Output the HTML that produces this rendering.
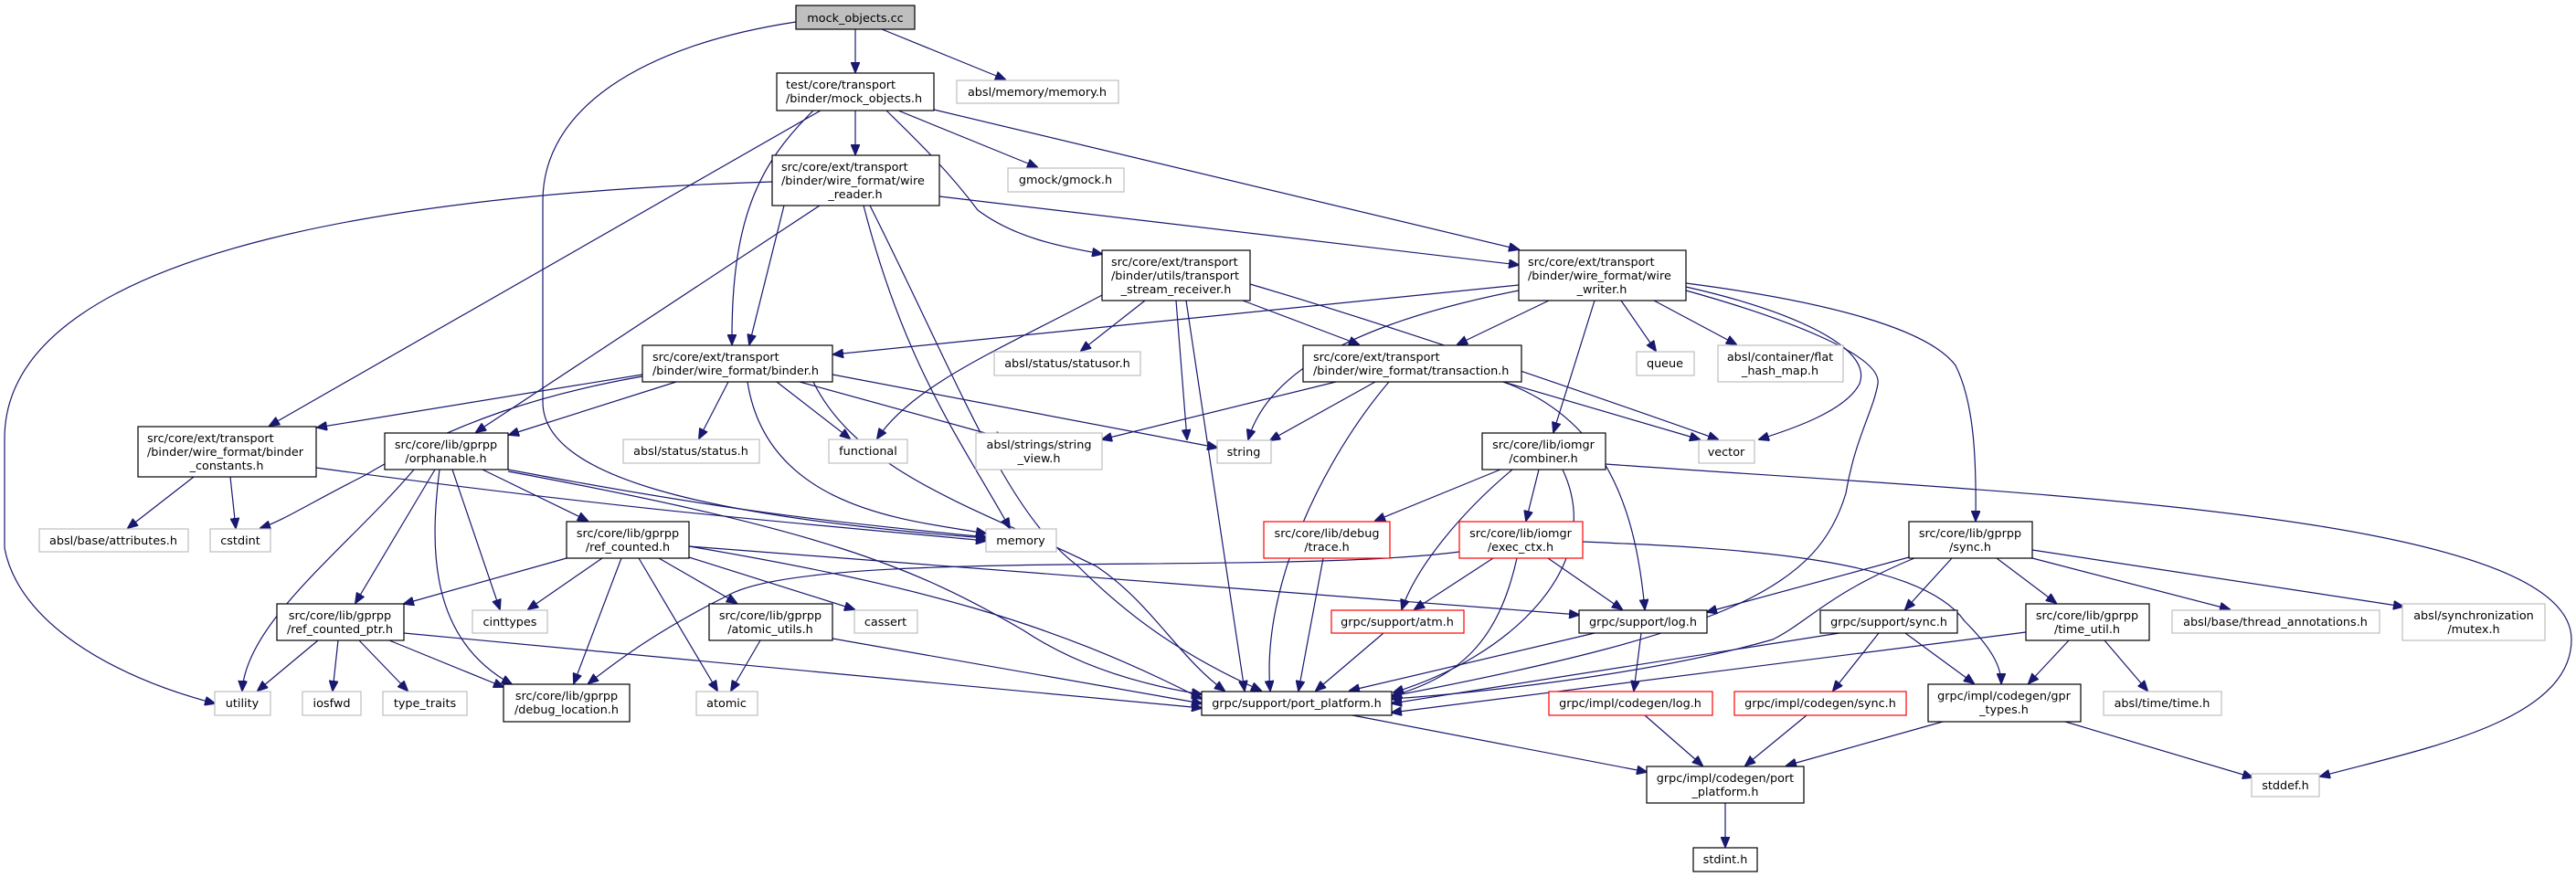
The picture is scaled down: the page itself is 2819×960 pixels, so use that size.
<!DOCTYPE html>
<html><head><meta charset="utf-8"><style>
html,body{margin:0;padding:0;background:#fff;}
svg{display:block;}
text{font-family:"DejaVu Sans","Liberation Sans",sans-serif;font-size:12.8px;fill:#000;}
.e{fill:none;stroke:#191970;stroke-width:1.2;marker-end:url(#a);}
</style></head><body>
<svg width="2819" height="960" viewBox="0 0 2819 960" xmlns="http://www.w3.org/2000/svg">
<defs><marker id="a" markerUnits="userSpaceOnUse" markerWidth="12" markerHeight="10" refX="11" refY="5" orient="auto"><path d="M0,0 L12,5 L0,10 z" fill="#191970" stroke="#191970"/></marker></defs>
<g>
<path class="e" d="M936,32 L936,79"/>
<path class="e" d="M965,32 L1100,87"/>
<path class="e" d="M871,24 C700,50 594,120 594,220 L594,440 C594,520 760,565 1079,589"/>
<path class="e" d="M936,121 L936,169"/>
<path class="e" d="M983,121 L1135,183"/>
<path class="e" d="M1022,120 L1662,273"/>
<path class="e" d="M970,121 C1010,160 1040,190 1070,230 C1110,260 1160,270 1206,278"/>
<path class="e" d="M890,121 C830,180 800,240 801,377"/>
<path class="e" d="M898,121 L295,466"/>
<path class="e" d="M845,199 C500,210 5,260 5,480 L5,600 C20,680 120,740 235,770"/>
<path class="e" d="M897,225 L521,473"/>
<path class="e" d="M858,225 L820,377"/>
<path class="e" d="M945,225 C990,400 1050,480 1105,578"/>
<path class="e" d="M952,225 C1050,420 1100,560 1180,620 C1240,680 1300,720 1380,756"/>
<path class="e" d="M1028,215 L1662,290"/>
<path class="e" d="M1206,323 C1100,380 1000,420 960,480"/>
<path class="e" d="M1253,329 L1183,384"/>
<path class="e" d="M1287,329 L1299,481"/>
<path class="e" d="M1298,329 L1362,756"/>
<path class="e" d="M1360,329 L1487,377"/>
<path class="e" d="M1368,311 C1500,350 1650,400 1880,481"/>
<path class="e" d="M1662,312 L912,388"/>
<path class="e" d="M1695,329 L1595,377"/>
<path class="e" d="M1662,318 C1500,350 1390,400 1366,481"/>
<path class="e" d="M1745,329 L1700,473"/>
<path class="e" d="M1774,329 L1812,384"/>
<path class="e" d="M1810,329 L1900,377"/>
<path class="e" d="M1845,314 C1960,340 2050,380 2035,420 C2020,450 1960,470 1925,481"/>
<path class="e" d="M1845,318 C1960,350 2060,390 2055,420 C2050,450 2030,480 2020,540 C1990,640 1900,690 1523,762"/>
<path class="e" d="M1845,310 C2000,330 2110,360 2140,400 C2160,440 2163,500 2162,570"/>
<path class="e" d="M703,410 L347,468"/>
<path class="e" d="M703,412 C600,430 500,460 400,520 C340,550 310,570 285,578"/>
<path class="e" d="M740,418 L557,476"/>
<path class="e" d="M797,418 L765,480"/>
<path class="e" d="M850,418 L930,480"/>
<path class="e" d="M875,418 L1100,480"/>
<path class="e" d="M911,410 L1332,490"/>
<path class="e" d="M818,418 C840,560 1000,570 1079,584"/>
<path class="e" d="M890,418 C940,520 1080,560 1200,620 C1260,660 1290,720 1340,756"/>
<path class="e" d="M212,522 L140,578"/>
<path class="e" d="M252,522 L258,578"/>
<path class="e" d="M346,512 C700,560 900,575 1079,592"/>
<path class="e" d="M453,514 C380,600 270,680 265,756"/>
<path class="e" d="M476,514 L389,660"/>
<path class="e" d="M481,514 C470,600 470,700 560,749"/>
<path class="e" d="M495,514 L547,667"/>
<path class="e" d="M528,514 L643,570"/>
<path class="e" d="M556,514 C800,560 900,570 1079,588"/>
<path class="e" d="M556,516 C900,580 1000,620 1120,690 C1180,730 1250,750 1315,760"/>
<path class="e" d="M620,611 L442,661"/>
<path class="e" d="M659,611 L578,667"/>
<path class="e" d="M680,611 L628,748"/>
<path class="e" d="M699,611 L785,756"/>
<path class="e" d="M721,611 L806,660"/>
<path class="e" d="M754,610 L935,667"/>
<path class="e" d="M754,598 C1000,640 1150,680 1315,765"/>
<path class="e" d="M754,598 L1728,673"/>
<path class="e" d="M348,701 L282,756"/>
<path class="e" d="M370,701 L364,756"/>
<path class="e" d="M393,701 L446,756"/>
<path class="e" d="M426,701 L551,752"/>
<path class="e" d="M442,693 L1315,775"/>
<path class="e" d="M832,701 L800,756"/>
<path class="e" d="M911,699 L1315,770"/>
<path class="e" d="M1597,604 C1400,630 900,600 800,650 C720,690 680,720 644,748"/>
<path class="e" d="M1634,611 L1548,667"/>
<path class="e" d="M1660,611 C1640,700 1600,740 1523,762"/>
<path class="e" d="M1694,611 L1775,667"/>
<path class="e" d="M1732,593 C1900,600 2100,610 2150,680 C2180,710 2190,730 2190,748"/>
<path class="e" d="M1642,514 L1505,570"/>
<path class="e" d="M1655,514 C1600,560 1550,620 1534,667"/>
<path class="e" d="M1684,514 L1670,570"/>
<path class="e" d="M1710,514 C1760,620 1650,720 1525,758"/>
<path class="e" d="M1757,508 C2200,540 2814,560 2814,700 C2814,790 2650,820 2539,850"/>
<path class="e" d="M1448,611 L1421,756"/>
<path class="e" d="M1514,693 L1440,756"/>
<path class="e" d="M1745,693 L1477,756"/>
<path class="e" d="M1796,693 L1788,756"/>
<path class="e" d="M1462,418 L1206,481"/>
<path class="e" d="M1505,418 L1390,482"/>
<path class="e" d="M1520,418 C1450,500 1380,640 1390,756"/>
<path class="e" d="M1645,418 L1860,481"/>
<path class="e" d="M1645,418 C1760,460 1790,560 1800,667"/>
<path class="e" d="M2089,610 L1868,670"/>
<path class="e" d="M2095,611 C2000,650 1980,680 1940,700 C1800,740 1600,760 1523,765"/>
<path class="e" d="M2136,611 L2085,667"/>
<path class="e" d="M2185,611 L2250,660"/>
<path class="e" d="M2224,611 L2440,667"/>
<path class="e" d="M2224,602 L2630,664"/>
<path class="e" d="M2013,693 L1523,770"/>
<path class="e" d="M2056,693 L2006,756"/>
<path class="e" d="M2085,693 L2160,748"/>
<path class="e" d="M2217,692 L1523,780"/>
<path class="e" d="M2264,701 L2220,748"/>
<path class="e" d="M2303,701 L2350,756"/>
<path class="e" d="M1800,783 L1863,838"/>
<path class="e" d="M1977,783 L1910,838"/>
<path class="e" d="M2126,790 L1955,838"/>
<path class="e" d="M2260,790 L2465,851"/>
<path class="e" d="M1480,783 L1802,845"/>
<path class="e" d="M1888,879 L1888,927"/>
</g>
<g stroke-width="1.2">
<rect x="871" y="6" width="130" height="26" fill="#bfbfbf" stroke="#000"/>
<text x="936" y="24" text-anchor="middle">mock_objects.cc</text>
<rect x="850" y="80" width="172" height="41" fill="#fff" stroke="#000"/>
<text x="860" y="97">test/core/transport</text><text x="860" y="112">/binder/mock_objects.h</text>
<rect x="1047" y="88" width="177" height="25" fill="#fff" stroke="#bfbfbf"/>
<text x="1135" y="105" text-anchor="middle">absl/memory/memory.h</text>
<rect x="845" y="170" width="183" height="55" fill="#fff" stroke="#000"/>
<text x="855" y="187">src/core/ext/transport</text><text x="855" y="202">/binder/wire_format/wire</text><text x="936" y="217" text-anchor="middle">_reader.h</text>
<rect x="1103" y="184" width="127" height="26" fill="#fff" stroke="#bfbfbf"/>
<text x="1166" y="201" text-anchor="middle">gmock/gmock.h</text>
<rect x="1206" y="274" width="162" height="55" fill="#fff" stroke="#000"/>
<text x="1216" y="291">src/core/ext/transport</text><text x="1216" y="306">/binder/utils/transport</text><text x="1287" y="321" text-anchor="middle">_stream_receiver.h</text>
<rect x="1662" y="274" width="183" height="55" fill="#fff" stroke="#000"/>
<text x="1672" y="291">src/core/ext/transport</text><text x="1672" y="306">/binder/wire_format/wire</text><text x="1753" y="321" text-anchor="middle">_writer.h</text>
<rect x="703" y="378" width="208" height="40" fill="#fff" stroke="#000"/>
<text x="714" y="395">src/core/ext/transport</text><text x="714" y="410">/binder/wire_format/binder.h</text>
<rect x="1088" y="385" width="160" height="26" fill="#fff" stroke="#bfbfbf"/>
<text x="1168" y="402" text-anchor="middle">absl/status/statusor.h</text>
<rect x="1426" y="378" width="239" height="40" fill="#fff" stroke="#000"/>
<text x="1437" y="395">src/core/ext/transport</text><text x="1437" y="410">/binder/wire_format/transaction.h</text>
<rect x="1791" y="385" width="63" height="26" fill="#fff" stroke="#bfbfbf"/>
<text x="1822" y="402" text-anchor="middle">queue</text>
<rect x="1880" y="378" width="137" height="40" fill="#fff" stroke="#bfbfbf"/>
<text x="1948" y="395" text-anchor="middle">absl/container/flat</text><text x="1948" y="410" text-anchor="middle">_hash_map.h</text>
<rect x="151" y="467" width="195" height="55" fill="#fff" stroke="#000"/>
<text x="161" y="484">src/core/ext/transport</text><text x="161" y="499">/binder/wire_format/binder</text><text x="248" y="514" text-anchor="middle">_constants.h</text>
<rect x="421" y="474" width="135" height="40" fill="#fff" stroke="#000"/>
<text x="488" y="491" text-anchor="middle">src/core/lib/gprpp</text><text x="488" y="506" text-anchor="middle">/orphanable.h</text>
<rect x="682" y="481" width="149" height="26" fill="#fff" stroke="#bfbfbf"/>
<text x="756" y="498" text-anchor="middle">absl/status/status.h</text>
<rect x="907" y="481" width="86" height="26" fill="#fff" stroke="#bfbfbf"/>
<text x="950" y="498" text-anchor="middle">functional</text>
<rect x="1068" y="474" width="138" height="40" fill="#fff" stroke="#bfbfbf"/>
<text x="1137" y="491" text-anchor="middle">absl/strings/string</text><text x="1137" y="506" text-anchor="middle">_view.h</text>
<rect x="1332" y="482" width="59" height="25" fill="#fff" stroke="#bfbfbf"/>
<text x="1361" y="499" text-anchor="middle">string</text>
<rect x="1622" y="474" width="135" height="40" fill="#fff" stroke="#000"/>
<text x="1689" y="491" text-anchor="middle">src/core/lib/iomgr</text><text x="1689" y="506" text-anchor="middle">/combiner.h</text>
<rect x="1859" y="482" width="61" height="25" fill="#fff" stroke="#bfbfbf"/>
<text x="1889" y="499" text-anchor="middle">vector</text>
<rect x="43" y="579" width="163" height="25" fill="#fff" stroke="#bfbfbf"/>
<text x="124" y="596" text-anchor="middle">absl/base/attributes.h</text>
<rect x="230" y="579" width="66" height="25" fill="#fff" stroke="#bfbfbf"/>
<text x="263" y="596" text-anchor="middle">cstdint</text>
<rect x="620" y="571" width="134" height="40" fill="#fff" stroke="#000"/>
<text x="687" y="588" text-anchor="middle">src/core/lib/gprpp</text><text x="687" y="603" text-anchor="middle">/ref_counted.h</text>
<rect x="1079" y="579" width="77" height="25" fill="#fff" stroke="#bfbfbf"/>
<text x="1117" y="596" text-anchor="middle">memory</text>
<rect x="1383" y="571" width="138" height="40" fill="#fff" stroke="#ff0000"/>
<text x="1452" y="588" text-anchor="middle">src/core/lib/debug</text><text x="1452" y="603" text-anchor="middle">/trace.h</text>
<rect x="1597" y="571" width="135" height="40" fill="#fff" stroke="#ff0000"/>
<text x="1664" y="588" text-anchor="middle">src/core/lib/iomgr</text><text x="1664" y="603" text-anchor="middle">/exec_ctx.h</text>
<rect x="2089" y="571" width="135" height="40" fill="#fff" stroke="#000"/>
<text x="2156" y="588" text-anchor="middle">src/core/lib/gprpp</text><text x="2156" y="603" text-anchor="middle">/sync.h</text>
<rect x="303" y="661" width="139" height="40" fill="#fff" stroke="#000"/>
<text x="372" y="678" text-anchor="middle">src/core/lib/gprpp</text><text x="372" y="693" text-anchor="middle">/ref_counted_ptr.h</text>
<rect x="517" y="668" width="82" height="25" fill="#fff" stroke="#bfbfbf"/>
<text x="558" y="685" text-anchor="middle">cinttypes</text>
<rect x="776" y="661" width="135" height="40" fill="#fff" stroke="#000"/>
<text x="843" y="678" text-anchor="middle">src/core/lib/gprpp</text><text x="843" y="693" text-anchor="middle">/atomic_utils.h</text>
<rect x="935" y="668" width="69" height="25" fill="#fff" stroke="#bfbfbf"/>
<text x="969" y="685" text-anchor="middle">cassert</text>
<rect x="1457" y="668" width="145" height="25" fill="#fff" stroke="#ff0000"/>
<text x="1529" y="685" text-anchor="middle">grpc/support/atm.h</text>
<rect x="1728" y="668" width="140" height="25" fill="#fff" stroke="#000"/>
<text x="1798" y="685" text-anchor="middle">grpc/support/log.h</text>
<rect x="1992" y="668" width="150" height="25" fill="#fff" stroke="#000"/>
<text x="2067" y="685" text-anchor="middle">grpc/support/sync.h</text>
<rect x="2217" y="661" width="135" height="40" fill="#fff" stroke="#000"/>
<text x="2284" y="678" text-anchor="middle">src/core/lib/gprpp</text><text x="2284" y="693" text-anchor="middle">/time_util.h</text>
<rect x="2377" y="668" width="227" height="25" fill="#fff" stroke="#bfbfbf"/>
<text x="2490" y="685" text-anchor="middle">absl/base/thread_annotations.h</text>
<rect x="2629" y="661" width="156" height="40" fill="#fff" stroke="#bfbfbf"/>
<text x="2707" y="678" text-anchor="middle">absl/synchronization</text><text x="2707" y="693" text-anchor="middle">/mutex.h</text>
<rect x="235" y="757" width="61" height="26" fill="#fff" stroke="#bfbfbf"/>
<text x="265" y="774" text-anchor="middle">utility</text>
<rect x="331" y="757" width="64" height="26" fill="#fff" stroke="#bfbfbf"/>
<text x="363" y="774" text-anchor="middle">iosfwd</text>
<rect x="419" y="757" width="92" height="26" fill="#fff" stroke="#bfbfbf"/>
<text x="465" y="774" text-anchor="middle">type_traits</text>
<rect x="551" y="749" width="138" height="41" fill="#fff" stroke="#000"/>
<text x="620" y="766" text-anchor="middle">src/core/lib/gprpp</text><text x="620" y="781" text-anchor="middle">/debug_location.h</text>
<rect x="762" y="757" width="67" height="26" fill="#fff" stroke="#bfbfbf"/>
<text x="795" y="774" text-anchor="middle">atomic</text>
<rect x="1315" y="757" width="208" height="26" fill="#fff" stroke="#000"/>
<text x="1419" y="774" text-anchor="middle">grpc/support/port_platform.h</text>
<rect x="1695" y="757" width="179" height="26" fill="#fff" stroke="#ff0000"/>
<text x="1784" y="774" text-anchor="middle">grpc/impl/codegen/log.h</text>
<rect x="1898" y="757" width="188" height="26" fill="#fff" stroke="#ff0000"/>
<text x="1992" y="774" text-anchor="middle">grpc/impl/codegen/sync.h</text>
<rect x="2110" y="749" width="167" height="41" fill="#fff" stroke="#000"/>
<text x="2193" y="766" text-anchor="middle">grpc/impl/codegen/gpr</text><text x="2193" y="781" text-anchor="middle">_types.h</text>
<rect x="2302" y="757" width="129" height="26" fill="#fff" stroke="#bfbfbf"/>
<text x="2366" y="774" text-anchor="middle">absl/time/time.h</text>
<rect x="1802" y="839" width="172" height="40" fill="#fff" stroke="#000"/>
<text x="1888" y="856" text-anchor="middle">grpc/impl/codegen/port</text><text x="1888" y="871" text-anchor="middle">_platform.h</text>
<rect x="2464" y="847" width="74" height="25" fill="#fff" stroke="#bfbfbf"/>
<text x="2501" y="864" text-anchor="middle">stddef.h</text>
<rect x="1853" y="928" width="70" height="26" fill="#fff" stroke="#000"/>
<text x="1888" y="945" text-anchor="middle">stdint.h</text>
</g>
</svg>
</body></html>
